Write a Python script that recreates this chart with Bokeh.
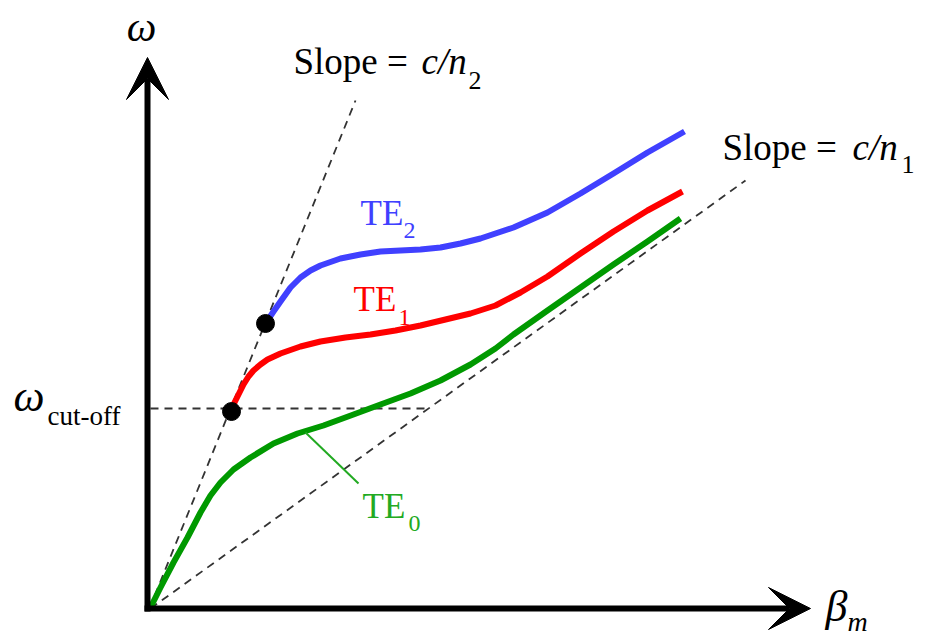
from bokeh.plotting import figure
from bokeh.models import Range1d, Arrow, VeeHead, Label
from bokeh.embed import file_html
from bokeh.resources import INLINE

# ---- data (schematic units: beta_m horizontally, omega vertically) ----
te0_beta = [3, 13, 26, 40, 53, 63, 73, 86, 103, 126, 150, 176, 206, 233, 263, 293, 323, 348,
            366, 400, 433, 466, 500, 533]
te0_omega = [1, 21, 46, 71, 96, 113, 126, 139, 151, 165, 175, 183, 194, 204, 215, 228, 244, 260,
             274, 298, 321, 344, 367, 390]

te1_beta = [84, 87, 90, 96, 101, 106, 113, 120, 133, 153, 173, 198, 223, 248, 273, 298, 323, 348,
            373, 400, 433, 466, 500, 535]
te1_omega = [197, 206, 212, 224, 232, 238, 244, 249, 255, 262, 267, 271, 274, 278, 283, 289, 295, 303,
             316, 332, 355, 377, 398, 417]

te2_beta = [118, 122, 126, 133, 143, 153, 163, 173, 193, 213, 233, 253, 273, 293, 313, 333, 366,
            400, 433, 466, 500, 537]
te2_omega = [285, 291, 297, 307, 321, 331, 338, 343, 350, 354, 357, 358, 359, 361, 365, 370, 381,
             396, 415, 435, 456, 477]

cutoff_pts_beta = [84, 118]
cutoff_pts_omega = [197, 285]

slope2_beta = [2, 208]
slope2_omega = [0, 508]
slope1_beta = [3, 598]
slope1_omega = [0, 428]
cutoff_line_beta = [3, 283]
cutoff_line_omega = [200, 200]

te0_pointer_beta = [158, 211]
te0_pointer_omega = [176, 125]

axis_end_beta = 663
axis_end_omega = 551

SERIF = "Liberation Serif"
BLUE = "#4040ff"
RED = "#ff0000"
GREEN = "#009900"
GREEN_TXT = "#22aa22"
DASH = "#333333"

p = figure(width=936, height=637,
           x_range=Range1d(-147, 789), y_range=Range1d(-29, 608),
           output_backend="svg", toolbar_location=None,
           x_axis_type=None, y_axis_type=None, min_border=0)
p.grid.visible = False
p.outline_line_color = None
p.background_fill_color = "white"

# dashed guide lines
p.line(slope2_beta, slope2_omega, line_color=DASH, line_width=1.8, line_dash="8 6")
p.line(slope1_beta, slope1_omega, line_color=DASH, line_width=1.8, line_dash="8 6")
p.line(cutoff_line_beta, cutoff_line_omega, line_color=DASH, line_width=1.8, line_dash="8 6")

# mode curves
p.line(te0_beta, te0_omega, line_color=GREEN, line_width=6, line_join="round")
p.line(te1_beta, te1_omega, line_color=RED, line_width=6, line_join="round")
p.line(te2_beta, te2_omega, line_color=BLUE, line_width=6, line_join="round")

p.line(te0_pointer_beta, te0_pointer_omega, line_color=GREEN_TXT, line_width=2)

p.scatter(cutoff_pts_beta, cutoff_pts_omega, size=18, color="black")

# axes arrows
p.add_layout(Arrow(end=VeeHead(size=42, fill_color="black", line_color="black", line_width=1),
                   x_start=0, y_start=-3, x_end=0, y_end=axis_end_omega,
                   line_width=6, line_color="black"))
p.add_layout(Arrow(end=VeeHead(size=42, fill_color="black", line_color="black", line_width=1),
                   x_start=-3, y_start=0, x_end=axis_end_beta, y_end=0,
                   line_width=6, line_color="black"))


def lab(x, y, text, size, color="black", style="normal", align="left"):
    # small upward correction so the glyph baseline sits where intended
    p.add_layout(Label(x=x, y=y + 0.33 * size, text=text, text_font=SERIF,
                       text_font_size=f"{size}px",
                       text_color=color, text_font_style=style, text_align=align,
                       text_baseline="alphabetic"))


# axis labels
lab(-6, 568, "ω", 42, style="italic", align="center")
lab(678, -13, "β", 44, style="italic")
lab(700, -22, "m", 28, style="italic")

# cut-off label
lab(-134, 197, "ω", 44, style="italic")
lab(-100, 184, "cut-off", 27)

# slope labels
lab(146, 535, "Slope = ", 37)
lab(274, 535, "c/n", 37, style="italic")
lab(321, 519, "2", 26)

lab(575, 449, "Slope = ", 37)
lab(705, 449, "c/n", 37, style="italic")
lab(754, 435, "1", 26)

# mode labels
lab(213, 383, "TE", 35, color=BLUE)
lab(256, 370, "2", 24, color=BLUE)
lab(206, 297, "TE", 35, color=RED)
lab(251, 283, "1", 24, color=RED)
lab(215, 90, "TE", 35, color=GREEN_TXT)
lab(261, 77, "0", 24, color=GREEN_TXT)

open("out.html", "w").write(file_html(p, INLINE))
